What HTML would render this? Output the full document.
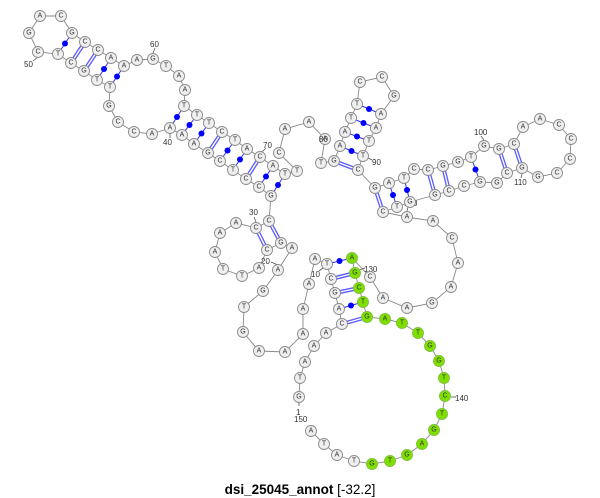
<!DOCTYPE html>
<html><head><meta charset="utf-8"><style>
html,body{margin:0;padding:0;background:#fff;width:600px;height:498px;overflow:hidden}
svg{display:block}
.n circle{fill:#efefef;stroke:#8a8a8a;stroke-width:0.9}
.g circle{fill:#7fe000;stroke:#7fc040;stroke-width:0.9}
text{font-family:"Liberation Sans",sans-serif}
.n text,.g text{font-size:7px;fill:#333;text-anchor:middle;dominant-baseline:central}
.lb{font-size:8px;fill:#333}
.dbl{stroke:#5a5aff;stroke-width:4}
.dblw{stroke:#fff;stroke-width:1.4}
.sg{stroke:#3030ff;stroke-width:1}
.dot{fill:#0000ff}
</style></head><body>
<svg width="600" height="498" viewBox="0 0 600 498" xmlns="http://www.w3.org/2000/svg">
<polyline fill="none" stroke="#888" stroke-width="0.9" points="299,397 300,378 305,362 314,346 326,333 342,324 339,309 335,293 331,279 327,264 315,259 309,284 303,309 303,334 285,352 259,351 243,332 244,307 263,291 278,270 292,248 281,243 267,250 259,268 242,276 223,269 215,252 220,233 236,223 256,228 269,221 271,196 259,187 246,179 233,170 220,161 208,153 194,144 182,135 170,128 152,134 134,132 118,122 109,106 110,87 97,80 84,71 71,63 58,54 38,52 29,33 40,16 61,16 72,33 85,42 98,50 111,58 124,66 137,60 153,59 166,66 179,76 185,90 184,106 197,115 209,123 222,132 235,140 247,149 260,157 273,166 285,174 297,171 279,153 285,129 309,122 325,139 321,163 334,161 340,146 345,132 351,118 357,104 360,82 382,77 394,96 381,114 376,128 369,141 363,156 358,170 375,188 389,183 404,178 414,169 428,170 443,166 458,162 471,157 484,146 499,149 514,144 523,127 540,119 559,125 571,139 570,159 557,173 538,177 522,168 507,173 497,183 480,182 464,186 449,191 435,195 410,202 397,207 383,212 407,217 433,221 452,238 458,263 451,287 432,303 407,308 383,298 370,277 352,258 355,273 359,288 363,302 367,317 385,319 402,323 418,333 430,346 439,361 444,378 445,396 442,414 434,430 422,444 407,455 390,461 372,464 354,461 337,455 324,444 311,431"/>
<g class="dbl">
<line x1="331" y1="279" x2="355" y2="273"/><line x1="335" y1="293" x2="359" y2="288"/><line x1="342" y1="324" x2="367" y2="317"/>
<line x1="281" y1="243" x2="269" y2="221"/><line x1="267" y1="250" x2="256" y2="228"/>
<line x1="246" y1="179" x2="260" y2="157"/><line x1="208" y1="153" x2="222" y2="132"/>
<line x1="84" y1="71" x2="98" y2="50"/><line x1="71" y1="63" x2="85" y2="42"/>
<line x1="334" y1="161" x2="358" y2="170"/>
<line x1="375" y1="188" x2="383" y2="212"/><line x1="428" y1="170" x2="435" y2="195"/><line x1="443" y1="166" x2="449" y2="191"/><line x1="499" y1="149" x2="507" y2="173"/><line x1="514" y1="144" x2="522" y2="168"/>
</g>
<g class="dblw">
<line x1="331" y1="279" x2="355" y2="273"/><line x1="335" y1="293" x2="359" y2="288"/><line x1="342" y1="324" x2="367" y2="317"/>
<line x1="281" y1="243" x2="269" y2="221"/><line x1="267" y1="250" x2="256" y2="228"/>
<line x1="246" y1="179" x2="260" y2="157"/><line x1="208" y1="153" x2="222" y2="132"/>
<line x1="84" y1="71" x2="98" y2="50"/><line x1="71" y1="63" x2="85" y2="42"/>
<line x1="334" y1="161" x2="358" y2="170"/>
<line x1="375" y1="188" x2="383" y2="212"/><line x1="428" y1="170" x2="435" y2="195"/><line x1="443" y1="166" x2="449" y2="191"/><line x1="499" y1="149" x2="507" y2="173"/><line x1="514" y1="144" x2="522" y2="168"/>
</g>
<g class="sg">
<line x1="327" y1="264" x2="352" y2="258"/><line x1="339" y1="309" x2="363" y2="302"/>
<line x1="271" y1="196" x2="285" y2="174"/><line x1="259" y1="187" x2="273" y2="166"/><line x1="233" y1="170" x2="247" y2="149"/><line x1="220" y1="161" x2="235" y2="140"/><line x1="194" y1="144" x2="209" y2="123"/><line x1="182" y1="135" x2="197" y2="115"/><line x1="170" y1="128" x2="184" y2="106"/>
<line x1="110" y1="87" x2="124" y2="66"/><line x1="97" y1="80" x2="111" y2="58"/><line x1="58" y1="54" x2="72" y2="33"/>
<line x1="340" y1="146" x2="363" y2="156"/><line x1="345" y1="132" x2="369" y2="141"/><line x1="351" y1="118" x2="376" y2="128"/><line x1="357" y1="104" x2="381" y2="114"/>
<line x1="389" y1="183" x2="397" y2="207"/><line x1="404" y1="178" x2="410" y2="202"/><line x1="471" y1="157" x2="480" y2="182"/>
</g>
<g class="dot">
<circle cx="339.5" cy="261" r="3"/><circle cx="351" cy="305.5" r="3"/>
<circle cx="278" cy="185" r="3"/><circle cx="266" cy="176.5" r="3"/><circle cx="240" cy="159.5" r="3"/><circle cx="227.5" cy="150.5" r="3"/><circle cx="201.5" cy="133.5" r="3"/><circle cx="189.5" cy="125" r="3"/><circle cx="177" cy="117" r="3"/>
<circle cx="117" cy="76.5" r="3"/><circle cx="104" cy="69" r="3"/><circle cx="65" cy="43.5" r="3"/>
<circle cx="351.5" cy="151" r="3"/><circle cx="357" cy="136.5" r="3"/><circle cx="363.5" cy="123" r="3"/><circle cx="369" cy="109" r="3"/>
<circle cx="393" cy="195" r="3"/><circle cx="407" cy="190" r="3"/><circle cx="475.5" cy="169.5" r="3"/>
</g>
<g stroke="#555" stroke-width="0.8">
<line x1="38" y1="57" x2="33" y2="61"/><line x1="153" y1="53" x2="155" y2="48"/><line x1="170" y1="134" x2="170" y2="138"/><line x1="262" y1="152" x2="266" y2="148"/><line x1="256" y1="222" x2="254" y2="217"/>
<line x1="368" y1="158" x2="372" y2="160"/><line x1="484" y1="140" x2="481" y2="136"/><line x1="522" y1="174" x2="521" y2="178"/><line x1="407" y1="211" x2="408" y2="207"/>
<line x1="359" y1="270" x2="365" y2="268"/><line x1="451" y1="397" x2="456" y2="397"/><line x1="299" y1="403" x2="299" y2="406"/><line x1="278" y1="265" x2="271" y2="262"/><line x1="323" y1="268" x2="319" y2="271"/>
</g>
<g class="lb">
<text x="24" y="67">50</text><text x="150" y="47">60</text><text x="163" y="145">40</text><text x="263" y="148">70</text><text x="249" y="215">30</text>
<text x="372" y="165">90</text><text x="474" y="135">100</text><text x="514" y="185">110</text><text x="404" y="206">120</text>
<text x="364" y="272">130</text><text x="455" y="401">140</text><text x="296" y="415">1</text><text x="294" y="422">150</text>
<text x="261" y="264">20</text><text x="311" y="277">10</text>
</g>
<g class="n"><circle cx="299" cy="397" r="5.5"/><text x="299" y="397">G</text></g>
<g class="n"><circle cx="300" cy="378" r="5.5"/><text x="300" y="378">T</text></g>
<g class="n"><circle cx="305" cy="362" r="5.5"/><text x="305" y="362">A</text></g>
<g class="n"><circle cx="314" cy="346" r="5.5"/><text x="314" y="346">A</text></g>
<g class="n"><circle cx="326" cy="333" r="5.5"/><text x="326" y="333">A</text></g>
<g class="n"><circle cx="342" cy="324" r="5.5"/><text x="342" y="324">C</text></g>
<g class="n"><circle cx="339" cy="309" r="5.5"/><text x="339" y="309">A</text></g>
<g class="n"><circle cx="335" cy="293" r="5.5"/><text x="335" y="293">G</text></g>
<g class="n"><circle cx="331" cy="279" r="5.5"/><text x="331" y="279">C</text></g>
<g class="n"><circle cx="327" cy="264" r="5.5"/><text x="327" y="264">T</text></g>
<g class="n"><circle cx="315" cy="259" r="5.5"/><text x="315" y="259">A</text></g>
<g class="n"><circle cx="309" cy="284" r="5.5"/><text x="309" y="284">A</text></g>
<g class="n"><circle cx="303" cy="309" r="5.5"/><text x="303" y="309">A</text></g>
<g class="n"><circle cx="303" cy="334" r="5.5"/><text x="303" y="334">A</text></g>
<g class="n"><circle cx="285" cy="352" r="5.5"/><text x="285" y="352">A</text></g>
<g class="n"><circle cx="259" cy="351" r="5.5"/><text x="259" y="351">A</text></g>
<g class="n"><circle cx="243" cy="332" r="5.5"/><text x="243" y="332">G</text></g>
<g class="n"><circle cx="244" cy="307" r="5.5"/><text x="244" y="307">T</text></g>
<g class="n"><circle cx="263" cy="291" r="5.5"/><text x="263" y="291">G</text></g>
<g class="n"><circle cx="278" cy="270" r="5.5"/><text x="278" y="270">A</text></g>
<g class="n"><circle cx="292" cy="248" r="5.5"/><text x="292" y="248">A</text></g>
<g class="n"><circle cx="281" cy="243" r="5.5"/><text x="281" y="243">G</text></g>
<g class="n"><circle cx="267" cy="250" r="5.5"/><text x="267" y="250">C</text></g>
<g class="n"><circle cx="259" cy="268" r="5.5"/><text x="259" y="268">A</text></g>
<g class="n"><circle cx="242" cy="276" r="5.5"/><text x="242" y="276">T</text></g>
<g class="n"><circle cx="223" cy="269" r="5.5"/><text x="223" y="269">T</text></g>
<g class="n"><circle cx="215" cy="252" r="5.5"/><text x="215" y="252">A</text></g>
<g class="n"><circle cx="220" cy="233" r="5.5"/><text x="220" y="233">A</text></g>
<g class="n"><circle cx="236" cy="223" r="5.5"/><text x="236" y="223">A</text></g>
<g class="n"><circle cx="256" cy="228" r="5.5"/><text x="256" y="228">C</text></g>
<g class="n"><circle cx="269" cy="221" r="5.5"/><text x="269" y="221">C</text></g>
<g class="n"><circle cx="271" cy="196" r="5.5"/><text x="271" y="196">G</text></g>
<g class="n"><circle cx="259" cy="187" r="5.5"/><text x="259" y="187">C</text></g>
<g class="n"><circle cx="246" cy="179" r="5.5"/><text x="246" y="179">C</text></g>
<g class="n"><circle cx="233" cy="170" r="5.5"/><text x="233" y="170">T</text></g>
<g class="n"><circle cx="220" cy="161" r="5.5"/><text x="220" y="161">C</text></g>
<g class="n"><circle cx="208" cy="153" r="5.5"/><text x="208" y="153">G</text></g>
<g class="n"><circle cx="194" cy="144" r="5.5"/><text x="194" y="144">A</text></g>
<g class="n"><circle cx="182" cy="135" r="5.5"/><text x="182" y="135">A</text></g>
<g class="n"><circle cx="170" cy="128" r="5.5"/><text x="170" y="128">A</text></g>
<g class="n"><circle cx="152" cy="134" r="5.5"/><text x="152" y="134">A</text></g>
<g class="n"><circle cx="134" cy="132" r="5.5"/><text x="134" y="132">C</text></g>
<g class="n"><circle cx="118" cy="122" r="5.5"/><text x="118" y="122">C</text></g>
<g class="n"><circle cx="109" cy="106" r="5.5"/><text x="109" y="106">G</text></g>
<g class="n"><circle cx="110" cy="87" r="5.5"/><text x="110" y="87">T</text></g>
<g class="n"><circle cx="97" cy="80" r="5.5"/><text x="97" y="80">T</text></g>
<g class="n"><circle cx="84" cy="71" r="5.5"/><text x="84" y="71">G</text></g>
<g class="n"><circle cx="71" cy="63" r="5.5"/><text x="71" y="63">C</text></g>
<g class="n"><circle cx="58" cy="54" r="5.5"/><text x="58" y="54">T</text></g>
<g class="n"><circle cx="38" cy="52" r="5.5"/><text x="38" y="52">C</text></g>
<g class="n"><circle cx="29" cy="33" r="5.5"/><text x="29" y="33">G</text></g>
<g class="n"><circle cx="40" cy="16" r="5.5"/><text x="40" y="16">A</text></g>
<g class="n"><circle cx="61" cy="16" r="5.5"/><text x="61" y="16">C</text></g>
<g class="n"><circle cx="72" cy="33" r="5.5"/><text x="72" y="33">G</text></g>
<g class="n"><circle cx="85" cy="42" r="5.5"/><text x="85" y="42">C</text></g>
<g class="n"><circle cx="98" cy="50" r="5.5"/><text x="98" y="50">C</text></g>
<g class="n"><circle cx="111" cy="58" r="5.5"/><text x="111" y="58">A</text></g>
<g class="n"><circle cx="124" cy="66" r="5.5"/><text x="124" y="66">A</text></g>
<g class="n"><circle cx="137" cy="60" r="5.5"/><text x="137" y="60">A</text></g>
<g class="n"><circle cx="153" cy="59" r="5.5"/><text x="153" y="59">G</text></g>
<g class="n"><circle cx="166" cy="66" r="5.5"/><text x="166" y="66">T</text></g>
<g class="n"><circle cx="179" cy="76" r="5.5"/><text x="179" y="76">A</text></g>
<g class="n"><circle cx="185" cy="90" r="5.5"/><text x="185" y="90">A</text></g>
<g class="n"><circle cx="184" cy="106" r="5.5"/><text x="184" y="106">T</text></g>
<g class="n"><circle cx="197" cy="115" r="5.5"/><text x="197" y="115">T</text></g>
<g class="n"><circle cx="209" cy="123" r="5.5"/><text x="209" y="123">T</text></g>
<g class="n"><circle cx="222" cy="132" r="5.5"/><text x="222" y="132">C</text></g>
<g class="n"><circle cx="235" cy="140" r="5.5"/><text x="235" y="140">T</text></g>
<g class="n"><circle cx="247" cy="149" r="5.5"/><text x="247" y="149">A</text></g>
<g class="n"><circle cx="260" cy="157" r="5.5"/><text x="260" y="157">C</text></g>
<g class="n"><circle cx="273" cy="166" r="5.5"/><text x="273" y="166">A</text></g>
<g class="n"><circle cx="285" cy="174" r="5.5"/><text x="285" y="174">T</text></g>
<g class="n"><circle cx="297" cy="171" r="5.5"/><text x="297" y="171">T</text></g>
<g class="n"><circle cx="279" cy="153" r="5.5"/><text x="279" y="153">C</text></g>
<g class="n"><circle cx="285" cy="129" r="5.5"/><text x="285" y="129">A</text></g>
<g class="n"><circle cx="309" cy="122" r="5.5"/><text x="309" y="122">A</text></g>
<g class="n"><circle cx="325" cy="139" r="5.5"/><text x="325" y="139">A</text></g>
<g class="n"><circle cx="321" cy="163" r="5.5"/><text x="321" y="163">T</text></g>
<g class="n"><circle cx="334" cy="161" r="5.5"/><text x="334" y="161">G</text></g>
<g class="n"><circle cx="340" cy="146" r="5.5"/><text x="340" y="146">A</text></g>
<g class="n"><circle cx="345" cy="132" r="5.5"/><text x="345" y="132">A</text></g>
<g class="n"><circle cx="351" cy="118" r="5.5"/><text x="351" y="118">T</text></g>
<g class="n"><circle cx="357" cy="104" r="5.5"/><text x="357" y="104">T</text></g>
<g class="n"><circle cx="360" cy="82" r="5.5"/><text x="360" y="82">C</text></g>
<g class="n"><circle cx="382" cy="77" r="5.5"/><text x="382" y="77">C</text></g>
<g class="n"><circle cx="394" cy="96" r="5.5"/><text x="394" y="96">G</text></g>
<g class="n"><circle cx="381" cy="114" r="5.5"/><text x="381" y="114">A</text></g>
<g class="n"><circle cx="376" cy="128" r="5.5"/><text x="376" y="128">A</text></g>
<g class="n"><circle cx="369" cy="141" r="5.5"/><text x="369" y="141">T</text></g>
<g class="n"><circle cx="363" cy="156" r="5.5"/><text x="363" y="156">T</text></g>
<g class="n"><circle cx="358" cy="170" r="5.5"/><text x="358" y="170">C</text></g>
<g class="n"><circle cx="375" cy="188" r="5.5"/><text x="375" y="188">G</text></g>
<g class="n"><circle cx="389" cy="183" r="5.5"/><text x="389" y="183">A</text></g>
<g class="n"><circle cx="404" cy="178" r="5.5"/><text x="404" y="178">T</text></g>
<g class="n"><circle cx="414" cy="169" r="5.5"/><text x="414" y="169">C</text></g>
<g class="n"><circle cx="428" cy="170" r="5.5"/><text x="428" y="170">C</text></g>
<g class="n"><circle cx="443" cy="166" r="5.5"/><text x="443" y="166">G</text></g>
<g class="n"><circle cx="458" cy="162" r="5.5"/><text x="458" y="162">G</text></g>
<g class="n"><circle cx="471" cy="157" r="5.5"/><text x="471" y="157">T</text></g>
<g class="n"><circle cx="484" cy="146" r="5.5"/><text x="484" y="146">G</text></g>
<g class="n"><circle cx="499" cy="149" r="5.5"/><text x="499" y="149">G</text></g>
<g class="n"><circle cx="514" cy="144" r="5.5"/><text x="514" y="144">C</text></g>
<g class="n"><circle cx="523" cy="127" r="5.5"/><text x="523" y="127">A</text></g>
<g class="n"><circle cx="540" cy="119" r="5.5"/><text x="540" y="119">A</text></g>
<g class="n"><circle cx="559" cy="125" r="5.5"/><text x="559" y="125">C</text></g>
<g class="n"><circle cx="571" cy="139" r="5.5"/><text x="571" y="139">C</text></g>
<g class="n"><circle cx="570" cy="159" r="5.5"/><text x="570" y="159">C</text></g>
<g class="n"><circle cx="557" cy="173" r="5.5"/><text x="557" y="173">C</text></g>
<g class="n"><circle cx="538" cy="177" r="5.5"/><text x="538" y="177">G</text></g>
<g class="n"><circle cx="522" cy="168" r="5.5"/><text x="522" y="168">G</text></g>
<g class="n"><circle cx="507" cy="173" r="5.5"/><text x="507" y="173">C</text></g>
<g class="n"><circle cx="497" cy="183" r="5.5"/><text x="497" y="183">G</text></g>
<g class="n"><circle cx="480" cy="182" r="5.5"/><text x="480" y="182">G</text></g>
<g class="n"><circle cx="464" cy="186" r="5.5"/><text x="464" y="186">C</text></g>
<g class="n"><circle cx="449" cy="191" r="5.5"/><text x="449" y="191">C</text></g>
<g class="n"><circle cx="435" cy="195" r="5.5"/><text x="435" y="195">G</text></g>
<g class="n"><circle cx="410" cy="202" r="5.5"/><text x="410" y="202">G</text></g>
<g class="n"><circle cx="397" cy="207" r="5.5"/><text x="397" y="207">T</text></g>
<g class="n"><circle cx="383" cy="212" r="5.5"/><text x="383" y="212">C</text></g>
<g class="n"><circle cx="407" cy="217" r="5.5"/><text x="407" y="217">A</text></g>
<g class="n"><circle cx="433" cy="221" r="5.5"/><text x="433" y="221">A</text></g>
<g class="n"><circle cx="452" cy="238" r="5.5"/><text x="452" y="238">C</text></g>
<g class="n"><circle cx="458" cy="263" r="5.5"/><text x="458" y="263">A</text></g>
<g class="n"><circle cx="451" cy="287" r="5.5"/><text x="451" y="287">A</text></g>
<g class="n"><circle cx="432" cy="303" r="5.5"/><text x="432" y="303">G</text></g>
<g class="n"><circle cx="407" cy="308" r="5.5"/><text x="407" y="308">A</text></g>
<g class="n"><circle cx="383" cy="298" r="5.5"/><text x="383" y="298">A</text></g>
<g class="n"><circle cx="370" cy="277" r="5.5"/><text x="370" y="277">C</text></g>
<g class="g"><circle cx="352" cy="258" r="5.5"/><text x="352" y="258">A</text></g>
<g class="g"><circle cx="355" cy="273" r="5.5"/><text x="355" y="273">G</text></g>
<g class="g"><circle cx="359" cy="288" r="5.5"/><text x="359" y="288">C</text></g>
<g class="g"><circle cx="363" cy="302" r="5.5"/><text x="363" y="302">T</text></g>
<g class="g"><circle cx="367" cy="317" r="5.5"/><text x="367" y="317">G</text></g>
<g class="g"><circle cx="385" cy="319" r="5.5"/><text x="385" y="319">A</text></g>
<g class="g"><circle cx="402" cy="323" r="5.5"/><text x="402" y="323">T</text></g>
<g class="g"><circle cx="418" cy="333" r="5.5"/><text x="418" y="333">T</text></g>
<g class="g"><circle cx="430" cy="346" r="5.5"/><text x="430" y="346">G</text></g>
<g class="g"><circle cx="439" cy="361" r="5.5"/><text x="439" y="361">G</text></g>
<g class="g"><circle cx="444" cy="378" r="5.5"/><text x="444" y="378">T</text></g>
<g class="g"><circle cx="445" cy="396" r="5.5"/><text x="445" y="396">C</text></g>
<g class="g"><circle cx="442" cy="414" r="5.5"/><text x="442" y="414">T</text></g>
<g class="g"><circle cx="434" cy="430" r="5.5"/><text x="434" y="430">G</text></g>
<g class="g"><circle cx="422" cy="444" r="5.5"/><text x="422" y="444">A</text></g>
<g class="g"><circle cx="407" cy="455" r="5.5"/><text x="407" y="455">G</text></g>
<g class="g"><circle cx="390" cy="461" r="5.5"/><text x="390" y="461">T</text></g>
<g class="g"><circle cx="372" cy="464" r="5.5"/><text x="372" y="464">G</text></g>
<g class="n"><circle cx="354" cy="461" r="5.5"/><text x="354" y="461">T</text></g>
<g class="n"><circle cx="337" cy="455" r="5.5"/><text x="337" y="455">A</text></g>
<g class="n"><circle cx="324" cy="444" r="5.5"/><text x="324" y="444">T</text></g>
<g class="n"><circle cx="311" cy="431" r="5.5"/><text x="311" y="431">A</text></g>
<text class="lb" x="319" y="142">80</text>
<text x="300" y="494" text-anchor="middle" font-size="13.5" fill="#000"><tspan font-weight="bold">dsi_25045_annot</tspan> [-32.2]</text>
</svg>
</body></html>
